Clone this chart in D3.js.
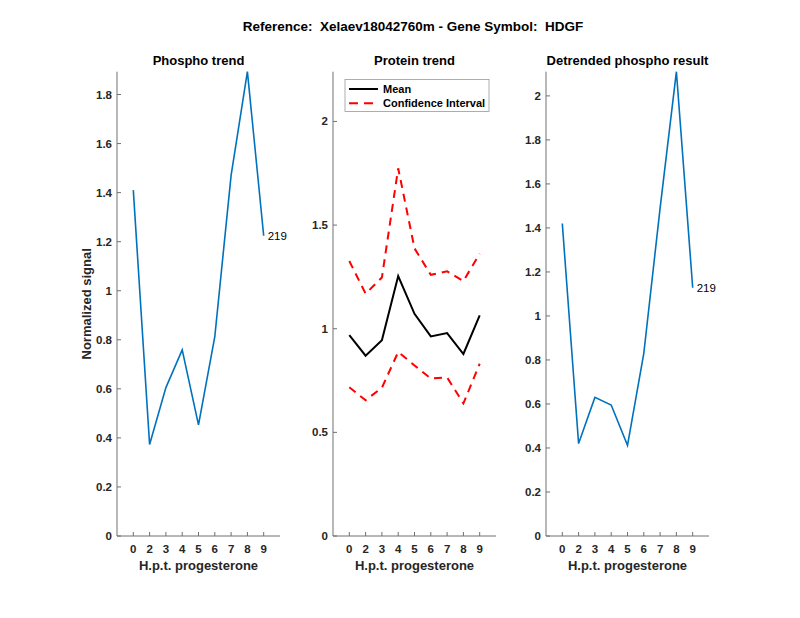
<!DOCTYPE html>
<html>
<head>
<meta charset="utf-8">
<script src="https://cdn.jsdelivr.net/npm/d3@7"></script>
<style>
  body { margin: 0; background: #fff; }
  text { font-family: "Liberation Sans", Arial, sans-serif; }
</style>
</head>
<body>
<script>
// tick labels for the x axis (hours post progesterone)
const hours = ["0", "2", "3", "4", "5", "6", "7", "8", "9"];

// phospho trend (left panel)
const phospho = [1.41, 0.373, 0.605, 0.759, 0.453, 0.813, 1.47, 1.893, 1.224];

// protein trend (middle panel)
const proteinMean = [0.969, 0.870, 0.944, 1.254, 1.072, 0.963, 0.979, 0.878, 1.064];
const proteinUpper = [1.327, 1.169, 1.247, 1.774, 1.388, 1.260, 1.277, 1.230, 1.362];
const proteinLower = [0.718, 0.655, 0.715, 0.888, 0.823, 0.760, 0.765, 0.640, 0.831];

// detrended phospho (right panel)
const detrended = [1.42, 0.42, 0.63, 0.595, 0.412, 0.83, 1.49, 2.11, 1.128];

const peptideId = "219";
const suptitle = "Reference:  Xelaev18042760m - Gene Symbol:  HDGF";

const width = 800;
const height = 618;
const plotTop = 71.7, plotBottom = 536, panelW = 163;
const axisColor = "#707070";
const textColor = "#262626";
const dash = "8,6";

const svg = d3.select("body").append("svg")
    .attr("width", width)
    .attr("height", height);

svg.append("text")
    .attr("x", 413).attr("y", 31)
    .attr("text-anchor", "middle")
    .attr("font-size", 13.5).attr("font-weight", "bold")
    .attr("fill", "#000")
    .style("white-space", "pre")
    .text(suptitle);

function makePanel(left, ymax, yticks, title, fmt) {
    const g = svg.append("g");
    const x = d3.scaleLinear().domain([0, 10]).range([left, left + panelW]);
    const y = d3.scaleLinear().domain([0, ymax]).range([plotBottom, plotTop]);

    // axis lines (box off)
    g.append("line").attr("x1", left).attr("x2", left).attr("y1", plotTop).attr("y2", plotBottom)
        .attr("stroke", axisColor);
    g.append("line").attr("x1", left).attr("x2", left + panelW).attr("y1", plotBottom).attr("y2", plotBottom)
        .attr("stroke", axisColor);

    // y ticks
    yticks.forEach(t => {
        g.append("line").attr("x1", left).attr("x2", left + 4)
            .attr("y1", y(t)).attr("y2", y(t)).attr("stroke", axisColor);
        g.append("text").attr("x", left - 5).attr("y", y(t))
            .attr("dy", "0.35em").attr("text-anchor", "end")
            .attr("font-size", 11.5).attr("font-weight", "bold").attr("fill", textColor)
            .text(fmt(t));
    });

    // x ticks
    hours.forEach((h, i) => {
        g.append("line").attr("x1", x(i + 1)).attr("x2", x(i + 1))
            .attr("y1", plotBottom).attr("y2", plotBottom - 4).attr("stroke", axisColor);
        g.append("text").attr("x", x(i + 1)).attr("y", 553)
            .attr("text-anchor", "middle")
            .attr("font-size", 11.5).attr("font-weight", "bold").attr("fill", textColor)
            .text(h);
    });

    g.append("text").attr("x", left + panelW / 2).attr("y", 570)
        .attr("text-anchor", "middle")
        .attr("font-size", 13).attr("font-weight", "bold").attr("fill", textColor)
        .text("H.p.t. progesterone");

    g.append("text").attr("x", left + panelW / 2).attr("y", 65)
        .attr("text-anchor", "middle")
        .attr("font-size", 13).attr("font-weight", "bold").attr("fill", "#000")
        .text(title);

    return { g, x, y };
}

function drawLine(p, values, color, w, dashes) {
    const line = d3.line().x((d, i) => p.x(i + 1)).y(d => p.y(d));
    p.g.append("path").datum(values)
        .attr("d", line)
        .attr("fill", "none")
        .attr("stroke", color)
        .attr("stroke-width", w)
        .attr("stroke-dasharray", dashes || null);
}

function endLabel(p, values) {
    const n = values.length;
    p.g.append("text")
        .attr("x", p.x(n) + 4).attr("y", p.y(values[n - 1]))
        .attr("dy", "0.35em")
        .attr("font-size", 11.5).attr("fill", "#000")
        .text(peptideId);
}

const fmt = d3.format("~g");

// left panel
const p1 = makePanel(117, d3.max(phospho), d3.range(0, 1.81, 0.2).map(v => +v.toFixed(1)), "Phospho trend", fmt);
drawLine(p1, phospho, "#0072BD", 1.6);
endLabel(p1, phospho);
svg.append("text")
    .attr("transform", "translate(91," + ((plotTop + plotBottom) / 2) + ") rotate(-90)")
    .attr("text-anchor", "middle")
    .attr("font-size", 13).attr("font-weight", "bold").attr("fill", textColor)
    .text("Normalized signal");

// middle panel
const p2 = makePanel(333, 2.24, [0, 0.5, 1, 1.5, 2], "Protein trend", fmt);
drawLine(p2, proteinMean, "#000", 2);
drawLine(p2, proteinUpper, "#ff0000", 2, dash);
drawLine(p2, proteinLower, "#ff0000", 2, dash);

// legend
const lg = p2.g.append("g");
lg.append("rect").attr("x", 345).attr("y", 79.5).attr("width", 144).attr("height", 32)
    .attr("fill", "#fff").attr("stroke", "#999").attr("stroke-width", 0.8);
[["Mean", "#000", null], ["Confidence Interval", "#ff0000", "9,6"]].forEach((e, i) => {
    const yy = 89 + i * 14.3;
    lg.append("line").attr("x1", 349).attr("x2", 378).attr("y1", yy).attr("y2", yy)
        .attr("stroke", e[1]).attr("stroke-width", 2).attr("stroke-dasharray", e[2]);
    lg.append("text").attr("x", 383).attr("y", yy).attr("dy", "0.35em")
        .attr("font-size", 11).attr("font-weight", "bold").attr("fill", "#000")
        .text(e[0]);
});

// right panel
const p3 = makePanel(546, d3.max(detrended), d3.range(0, 2.01, 0.2).map(v => +v.toFixed(1)), "Detrended phospho result", fmt);
drawLine(p3, detrended, "#0072BD", 1.6);
endLabel(p3, detrended);
</script>
</body>
</html>
